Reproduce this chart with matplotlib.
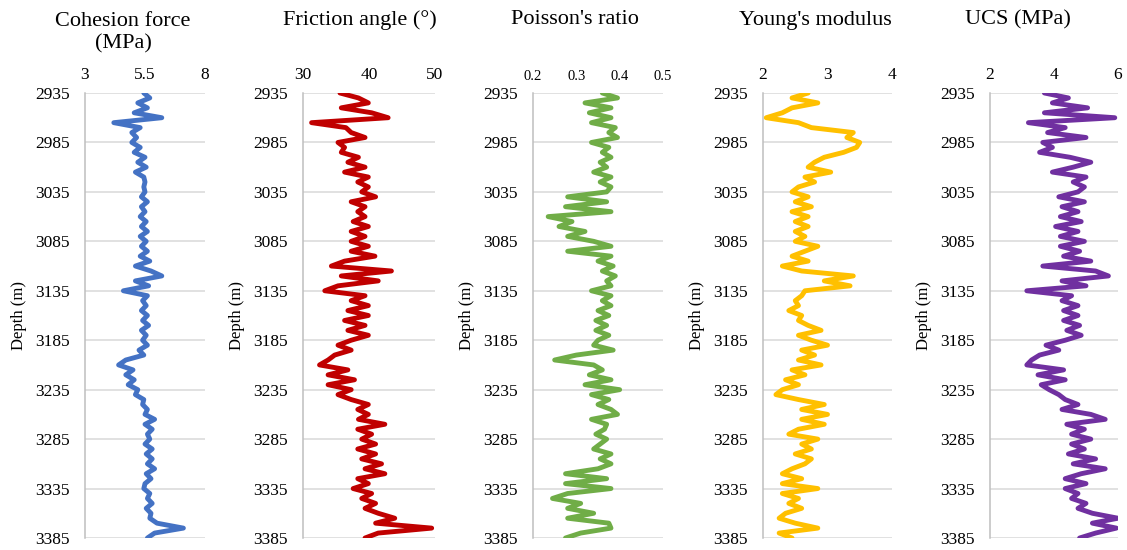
import numpy as np
import matplotlib.pyplot as plt

plt.rcParams['font.family'] = ['Liberation Serif', 'DejaVu Serif']

# depth samples every 5 m
depth = np.arange(2935, 3386, 5)

cohesion = [5.45, 5.7, 5.2, 5.6, 5.05, 6.2, 4.2, 5.3, 4.95, 5.15,
            4.95, 5.3, 5.05, 5.5, 5.2, 5.55, 5.1, 5.45, 5.5, 5.45,
            5.5, 5.35, 5.6, 5.35, 5.5, 5.3, 5.55, 5.35, 5.6, 5.3,
            5.55, 5.35, 5.6, 5.3, 5.7, 5.1, 5.75, 6.2, 5.1, 5.65,
            4.6, 5.6, 5.4, 5.55, 5.35, 5.6, 5.4, 5.65, 5.35, 5.55,
            5.4, 5.6, 5.25, 5.45, 4.7, 4.4, 5.0, 4.7, 5.05, 4.8,
            5.2, 5.1, 5.45, 5.4, 5.6, 5.5, 5.9, 5.5, 5.8, 5.6,
            5.7, 5.5, 5.8, 5.55, 5.8, 5.6, 5.9, 5.55, 5.75, 5.5,
            5.45, 5.7, 5.6, 5.8, 5.55, 5.75, 5.7, 6.0, 7.1, 5.9,
            5.6]

friction = [35.6, 38.4, 39.9, 35.8, 40.4, 42.9, 31.3, 36.5, 37.3, 39.4,
            35.3, 36.3, 35.8, 38.4, 36.8, 39.4, 36.3, 39.9, 38.3, 39.9,
            38.9, 41.0, 37.3, 39.4, 38.3, 39.4, 37.6, 39.9, 37.3, 39.4,
            37.3, 39.9, 37.3, 40.9, 36.3, 34.3, 43.4, 35.8, 41.4, 35.3,
            33.3, 39.4, 37.3, 39.9, 36.8, 39.9, 36.3, 39.4, 36.8, 39.9,
            37.3, 35.3, 37.3, 34.8, 33.8, 32.5, 36.8, 33.8, 37.8, 33.8,
            37.3, 35.3, 37.3, 39.9, 38.3, 39.9, 38.4, 42.4, 38.3, 40.4,
            38.9, 41.0, 38.3, 41.0, 38.9, 41.9, 39.4, 42.4, 38.3, 39.9,
            37.6, 40.4, 38.9, 41.0, 39.4, 41.4, 43.9, 41.0, 49.5, 41.4,
            39.4]

poisson = [0.36, 0.395, 0.32, 0.38, 0.33, 0.38, 0.335, 0.39, 0.375, 0.395,
           0.335, 0.375, 0.36, 0.38, 0.355, 0.37, 0.34, 0.38, 0.355, 0.38,
           0.37, 0.28, 0.37, 0.275, 0.38, 0.235, 0.29, 0.26, 0.32, 0.28,
           0.34, 0.38, 0.28, 0.38, 0.35, 0.385, 0.36, 0.39, 0.37, 0.38,
           0.335, 0.38, 0.36, 0.38, 0.35, 0.375, 0.345, 0.37, 0.345, 0.375,
           0.35, 0.34, 0.385, 0.3, 0.25, 0.34, 0.36, 0.33, 0.38, 0.32,
           0.4, 0.335, 0.375, 0.35, 0.38, 0.395, 0.335, 0.37, 0.365, 0.345,
           0.37, 0.355, 0.34, 0.38, 0.355, 0.38, 0.35, 0.275, 0.37, 0.275,
           0.38, 0.28, 0.245, 0.31, 0.28, 0.34, 0.28, 0.375, 0.38, 0.31,
           0.275]

young = [2.7, 2.45, 2.85, 2.45, 2.3, 2.05, 2.55, 2.75, 3.4, 3.3,
         3.5, 3.45, 3.25, 2.95, 2.8, 2.7, 3.05, 2.65, 2.8, 2.55,
         2.45, 2.7, 2.5, 2.75, 2.45, 2.7, 2.5, 2.7, 2.5, 2.65,
         2.5, 2.85, 2.65, 2.45, 2.7, 2.3, 2.6, 3.4, 2.95, 3.35,
         2.65, 2.6, 2.5, 2.55, 2.4, 2.6, 2.55, 2.7, 2.9, 2.55,
         2.75, 3.0, 2.6, 2.8, 2.55, 2.9, 2.45, 2.65, 2.35, 2.55,
         2.3, 2.2, 2.55, 2.95, 2.6, 3.0, 2.6, 2.95, 2.55, 2.4,
         2.85, 2.6, 2.75, 2.5, 2.75, 2.65, 2.45, 2.3, 2.6, 2.3,
         2.85, 2.3, 2.55, 2.4, 2.6, 2.35, 2.25, 2.5, 2.85, 2.25,
         2.45]

ucs = [3.7, 4.45, 3.95, 5.05, 3.7, 5.9, 3.2, 4.35, 3.8, 5.0,
       3.65, 3.95, 3.55, 4.5, 5.15, 4.6, 3.95, 5.0, 4.6, 4.95,
       4.75, 4.15, 4.95, 4.25, 4.75, 4.2, 4.85, 4.05, 4.75, 4.2,
       4.95, 4.2, 4.8, 4.3, 5.15, 3.65, 5.3, 5.7, 4.25, 5.0,
       3.15, 4.55, 4.25, 4.75, 4.3, 4.75, 4.3, 4.8, 4.4, 4.85,
       4.35, 3.75, 4.15, 3.55, 3.3, 3.15, 4.3, 3.5, 4.35, 3.6,
       3.85, 4.15, 4.35, 4.75, 4.25, 5.15, 5.6, 4.4, 4.95, 4.55,
       5.15, 4.55, 4.95, 4.45, 5.3, 4.6, 5.6, 4.85, 4.35, 5.0,
       4.35, 4.75, 4.55, 5.0, 4.75, 5.2, 6.0, 5.2, 5.95, 5.3,
       4.8]

titles = ["Cohesion force\n(MPa)", "Friction angle (°)", "Poisson's ratio",
          "Young's modulus", "UCS (MPa)"]
x_ticks = [[3, 5.5, 8], [30, 40, 50], [0.2, 0.3, 0.4, 0.5], [2, 3, 4], [2, 4, 6]]
x_labels = [["3", "5.5", "8"], ["30", "40", "50"], ["0.2", "0.3", "0.4", "0.5"],
            ["2", "3", "4"], ["2", "4", "6"]]
depth_ticks = np.arange(2935, 3386, 50)

series = [cohesion, friction, poisson, young, ucs]
colors = ['#4472C4', '#C00000', '#70AD47', '#FFC000', '#7030A0']

W, H = 1127, 550
# axes left edge / width in pixels, title centre in pixels
ax_left = [85, 303, 533, 763, 990]
ax_width = [120, 132, 130, 129, 128]
title_x = [123, 360, 575, 815, 1018]
title_y = [33, 20, 20, 20, 20]
top_px, bot_px = 93, 538

fig = plt.figure(figsize=(W / 100, H / 100), dpi=100)

for i in range(5):
    ax = fig.add_axes([ax_left[i] / W, 1 - bot_px / H,
                       ax_width[i] / W, (bot_px - top_px) / H])
    ax.plot(series[i], depth, color=colors[i], lw=3.5,
            solid_joinstyle='round', solid_capstyle='round')
    ax.set_ylim(3385, 2935)
    ax.set_xlim(x_ticks[i][0], x_ticks[i][-1])
    ax.set_yticks(depth_ticks)
    ax.set_xticks(x_ticks[i])
    ax.set_xticklabels(x_labels[i])
    ax.xaxis.tick_top()
    xsize = 10.5 if i == 2 else 12.5
    ax.tick_params(axis='x', length=0, labelsize=xsize, pad=7)
    ax.tick_params(axis='y', length=0, labelsize=12.5, pad=11)
    ax.grid(axis='y', color='#D9D9D9', lw=1.1)
    ax.set_axisbelow(True)
    for s in ['top', 'right', 'bottom']:
        ax.spines[s].set_visible(False)
    ax.spines['left'].set_color('#BFBFBF')
    ax.spines['left'].set_linewidth(1.1)
    ax.set_ylabel("Depth (m)", fontsize=12)
    ax.yaxis.set_label_coords(-58 / ax_width[i], 0.5)
    fig.text(title_x[i] / W, 1 - title_y[i] / H, titles[i], fontsize=16,
             ha='center', va='center', linespacing=1.2)

fig.savefig("out.png", dpi=100)
